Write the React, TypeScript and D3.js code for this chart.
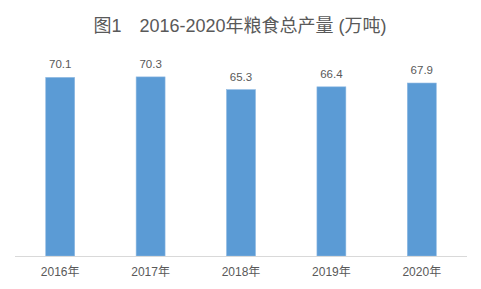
import React from "react";
import * as d3 from "d3";

const categories = ["2016年", "2017年", "2018年", "2019年", "2020年"];
const values = [70.1, 70.3, 65.3, 66.4, 67.9];
const title = "图1　2016-2020年粮食总产量 (万吨)";

const W = 481;
const H = 289;
const FONT = "'Liberation Sans', 'Noto Sans CJK SC', sans-serif";

export default function App() {
  const x = d3.scaleBand<string>().domain(categories).range([15, 467]).paddingInner(0.68).paddingOuter(0.34);
  const y = d3.scaleLinear().domain([0, 80]).range([256, 52.2]);
  const bw = x.bandwidth();
  return (
    <svg width={W} height={H} style={{ position: "absolute", left: 0, top: 0, background: "#fff" }} fontFamily={FONT}>
      <text x={240} y={32} textAnchor="middle" fontSize={18} fill="#595959" style={{ whiteSpace: "pre" }}>
        {title}
      </text>
      {values.map((v, i) => {
        const cx = (x(categories[i]) as number) + bw / 2;
        return (
          <g key={i}>
            <rect x={x(categories[i])} y={y(v)} width={bw} height={y(0) - y(v)} fill="#5B9BD5" stroke="#8DB8E2" strokeWidth={0.6} />
            <text x={cx} y={y(v) - 9} textAnchor="middle" fontSize={11.5} fill="#595959">
              {v.toFixed(1)}
            </text>
            <text x={cx} y={276} textAnchor="middle" fontSize={12} fill="#595959">
              {categories[i]}
            </text>
          </g>
        );
      })}
      <line x1={15} x2={467} y1={256.5} y2={256.5} stroke="#D9D9D9" strokeWidth={1} />
    </svg>
  );
}
